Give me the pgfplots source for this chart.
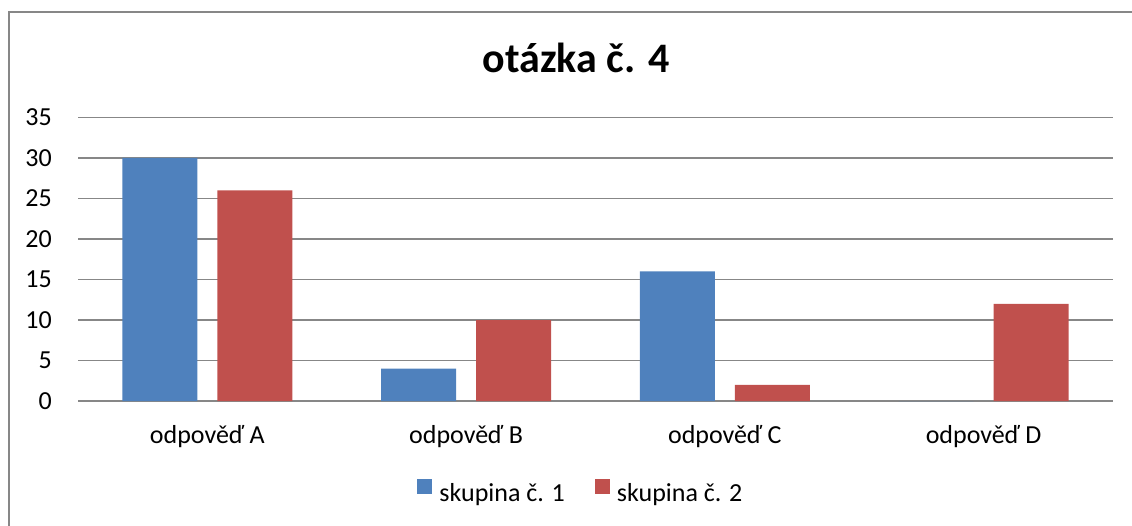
\documentclass[border=0pt]{standalone}
\usepackage{pgfplots}
\pgfplotsset{compat=1.18}
\usepackage{fontspec}
\setmainfont{Carlito}
\definecolor{xblue}{HTML}{4F81BD}
\definecolor{xred}{HTML}{C0504D}
\definecolor{xgrid}{HTML}{878787}
\begin{document}
\begin{tikzpicture}[x=1pt,y=1pt]
\useasboundingbox (0,0) rectangle (1132,525);
\draw[xgrid, line width=1.3pt] (9,-5) -- (9,513) -- (1140,513);
\node[anchor=base, inner sep=0pt, font=\fontsize{42}{50}\selectfont\bfseries] at (576,452) {otázka č. 4};
\begin{axis}[
  at={(78pt,124pt)}, anchor=south west, scale only axis,
  width=1035pt, height=283.5pt,
  xmin=-0.5, xmax=3.5, ymin=0, ymax=35,
  ytick={0,5,...,35}, xtick={0,1,2,3},
  xticklabels={odpověď A, odpověď B, odpověď C, odpověď D},
  axis line style={draw=none}, major tick length=0pt,
  ymajorgrids, grid style={xgrid, line width=1.3pt},
  clip=false,
  ybar=20pt, bar width=75pt,
  ticklabel style={font=\fontsize{26}{31}\selectfont},
  /pgf/number format/assume math mode=true,
  yticklabel style={inner sep=0pt, xshift=-26pt},
  xticklabel style={inner sep=0pt, anchor=base, yshift=-42pt},
  legend columns=2,
  legend style={at={(0.485,-0.3175)}, anchor=center, draw=none,
    font=\fontsize{26}{31}\selectfont,
    nodes={inner sep=0pt},
    /tikz/every odd column/.append style={column sep=7pt},
    /tikz/every even column/.append style={column sep=30pt}},
  legend image code/.code={\fill[#1] (0pt,0pt) rectangle (15pt,15pt);},
]
\addplot[fill=xblue, draw=none] coordinates {(0,30) (1,4) (2,16) (3,0)};
\addplot[fill=xred, draw=none] coordinates {(0,26) (1,10) (2,2) (3,12)};
\legend{skupina č. 1, skupina č. 2}
\end{axis}
\end{tikzpicture}
\end{document}
